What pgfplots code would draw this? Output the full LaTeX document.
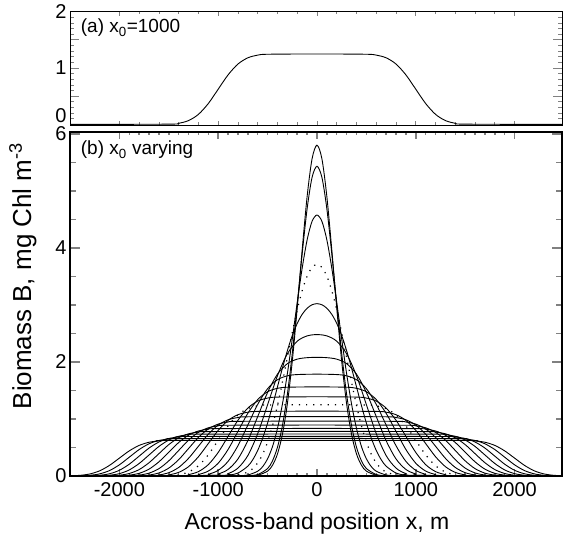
\documentclass[border=0pt]{standalone}
\usepackage{fontspec}
\setmainfont{Liberation Sans}
\usepackage{pgfplots}
\pgfplotsset{compat=1.18}

\pgfplotsset{
  cv/.style={black, line width=0.9pt, smooth, mark=none},
  cvd/.style={black, line width=1.2pt, smooth, mark=none, dash pattern=on 1.2pt off 6pt},
  panel/.style={
    scale only axis, width=492pt,
    xmin=-2500, xmax=2480,
    xtick={-2000,-1000,0,1000,2000},
    tick align=inside,
    tick label style={font=\fontsize{20}{22}\selectfont},
    yticklabel style={inner ysep=0pt},
  },
}

\begin{document}
\begin{tikzpicture}
\path[use as bounding box] (0pt,0pt) rectangle (563pt,538pt);

% panel (a): x0 = 1000
\begin{axis}[panel, at={(70pt,413pt)}, anchor=south west, height=113.3pt,
  ymin=-0.01, ymax=2,
  ytick={0,0.5,1,1.5,2}, yticklabels={\raisebox{18pt}{0},,1,,2},
  minor x tick num=4, minor y tick num=4,
  xticklabels={},
  axis line style={line width=0.8pt},
  xtick style={line width=0.8pt, /pgfplots/major tick length=4pt, /pgfplots/minor tick length=2.5pt},
  ytick style={line width=0.8pt, /pgfplots/major tick length=9pt, /pgfplots/minor tick length=4.5pt},
]
\addplot[cv] coordinates {(-2500,0) (-1500,0.0050) (-1400,0.0205) (-1300,0.0684) (-1200,0.1786) (-1100,0.3709) (-1000,0.625) (-900,0.8791) (-800,1.0714) (-700,1.1818) (-600,1.2295) (-500,1.2450) (0,1.25) (500,1.2450) (600,1.2295) (700,1.1818) (800,1.0714) (900,0.8791) (1000,0.625) (1100,0.3709) (1200,0.1786) (1300,0.0684) (1400,0.0205) (1500,0.0050) (2500,0)};
\end{axis}

% panel (b): x0 varying
\begin{axis}[panel, at={(70pt,61.5pt)}, anchor=south west, height=344.8pt,
  ymin=-0.01, ymax=6.04,
  ytick={0,2,4,6}, yticklabels={0,2,4,6},
  xticklabels={-2000,-1000,0,1000,2000},
  minor x tick num=9, minor y tick num=3,
  axis line style={line width=2pt},
  xtick style={line width=1.5pt, /pgfplots/major tick length=7pt, /pgfplots/minor tick length=3.5pt},
  ytick style={line width=1.5pt, /pgfplots/major tick length=10pt, /pgfplots/minor tick length=6pt},
  xticklabel style={yshift=-3pt},
]
% x0 = 0
\addplot[cv] coordinates {(-2500,0) (-800,0) (-700,0.0014) (-600,0.013) (-500,0.084) (-450,0.188) (-400,0.386) (-350,0.729) (-300,1.264) (-250,2.014) (-200,2.948) (-150,3.965) (-100,4.900) (-50,5.563) (0,5.804) (50,5.563) (100,4.900) (150,3.965) (200,2.948) (250,2.014) (300,1.264) (350,0.729) (400,0.386) (450,0.188) (500,0.084) (600,0.013) (700,0.0014) (800,0) (2500,0)};
% x0 = 100
\addplot[cv] coordinates {(-2500,0) (-800,0) (-700,0.0034) (-600,0.025) (-500,0.130) (-450,0.266) (-400,0.503) (-350,0.881) (-300,1.430) (-250,2.152) (-200,3.006) (-150,3.895) (-100,4.686) (-50,5.237) (0,5.433) (50,5.237) (100,4.686) (150,3.895) (200,3.006) (250,2.152) (300,1.430) (350,0.881) (400,0.503) (450,0.266) (500,0.130) (600,0.025) (700,0.0034) (800,0) (2500,0)};
% x0 = 200
\addplot[cv] coordinates {(-2500,0) (-900,0) (-800,0.0024) (-700,0.0172) (-600,0.0825) (-550,0.163) (-500,0.300) (-450,0.516) (-400,0.833) (-350,1.260) (-300,1.793) (-250,2.403) (-200,3.043) (-150,3.645) (-100,4.140) (-50,4.466) (0,4.578) (50,4.466) (100,4.140) (150,3.645) (200,3.043) (250,2.403) (300,1.793) (350,1.260) (400,0.833) (450,0.516) (500,0.300) (550,0.163) (600,0.0825) (700,0.0172) (800,0.0024) (900,0) (2500,0)};
% x0 = 300 (dotted)
\addplot[cvd] coordinates {(-2500,0) (-1000,0) (-900,0.0029) (-800,0.0167) (-700,0.068) (-650,0.129) (-600,0.228) (-550,0.379) (-500,0.595) (-450,0.882) (-400,1.236) (-350,1.644) (-300,2.080) (-250,2.515) (-200,2.913) (-150,3.250) (-100,3.503) (-50,3.659) (0,3.711) (50,3.659) (100,3.503) (150,3.250) (200,2.913) (250,2.515) (300,2.080) (350,1.644) (400,1.236) (450,0.882) (500,0.595) (550,0.379) (600,0.228) (650,0.129) (700,0.068) (800,0.0167) (900,0.0029) (1000,0) (2500,0)};
% x0 = 400
\addplot[cv] coordinates {(-2500,0) (-1000,0.0022) (-900,0.0125) (-800,0.051) (-700,0.171) (-650,0.285) (-600,0.447) (-550,0.662) (-500,0.927) (-450,1.234) (-400,1.5625) (-350,1.891) (-300,2.197) (-250,2.463) (-200,2.676) (-150,2.835) (-100,2.942) (-50,3.003) (0,3.0225) (50,3.003) (100,2.942) (150,2.835) (200,2.676) (250,2.463) (300,2.197) (350,1.891) (400,1.5625) (450,1.234) (500,0.927) (550,0.662) (600,0.447) (650,0.285) (700,0.171) (800,0.051) (900,0.0125) (1000,0.0022) (2500,0)};
% x0 = 500
\addplot[cv] coordinates {(-2500,0) (-1000,0.010) (-900,0.041) (-800,0.137) (-700,0.357) (-600,0.742) (-500,1.25) (-400,1.758) (-300,2.143) (-200,2.364) (-100,2.457) (0,2.480) (100,2.457) (200,2.364) (300,2.143) (400,1.758) (500,1.25) (600,0.742) (700,0.357) (800,0.137) (900,0.041) (1000,0.010) (2500,0)};
% x0 = 600
\addplot[cv] coordinates {(-2500,0) (-1100,0.0083) (-1000,0.0342) (-900,0.1140) (-800,0.2977) (-700,0.6181) (-600,1.0417) (-500,1.4652) (-400,1.7856) (-300,1.9696) (-200,2.0491) (-100,2.0750) (0,2.0804) (100,2.0750) (200,2.0491) (300,1.9696) (400,1.7856) (500,1.4652) (600,1.0417) (700,0.6181) (800,0.2977) (900,0.1140) (1000,0.0342) (1100,0.0083) (2500,0)};
% x0 = 700
\addplot[cv] coordinates {(-2500,0) (-1200,0.0071) (-1100,0.0293) (-1000,0.0977) (-900,0.2552) (-800,0.5298) (-700,0.8929) (-600,1.2559) (-500,1.5305) (-400,1.6882) (-300,1.7564) (-200,1.7786) (0,1.7854) (200,1.7786) (300,1.7564) (400,1.6882) (500,1.5305) (600,1.2559) (700,0.8929) (800,0.5298) (900,0.2552) (1000,0.0977) (1100,0.0293) (1200,0.0071) (2500,0)};
% x0 = 800
\addplot[cv] coordinates {(-2500,0) (-1300,0.0063) (-1200,0.0256) (-1100,0.0855) (-1000,0.2233) (-900,0.4636) (-800,0.7813) (-700,1.0989) (-600,1.3392) (-500,1.4772) (-400,1.5369) (-300,1.5563) (0,1.5624) (300,1.5563) (400,1.5369) (500,1.4772) (600,1.3392) (700,1.0989) (800,0.7813) (900,0.4636) (1000,0.2233) (1100,0.0855) (1200,0.0256) (1300,0.0063) (2500,0)};
% x0 = 900
\addplot[cv] coordinates {(-2500,0) (-1400,0.0056) (-1300,0.0228) (-1200,0.0760) (-1100,0.1985) (-1000,0.4121) (-900,0.6944) (-800,0.9768) (-700,1.1904) (-600,1.3131) (-500,1.3661) (-400,1.3833) (0,1.3889) (400,1.3833) (500,1.3661) (600,1.3131) (700,1.1904) (800,0.9768) (900,0.6944) (1000,0.4121) (1100,0.1985) (1200,0.0760) (1300,0.0228) (1400,0.0056) (2500,0)};
% x0 = 1000 (dotted)
\addplot[cvd] coordinates {(-2500,0) (-1500,0.0050) (-1400,0.0205) (-1300,0.0684) (-1200,0.1786) (-1100,0.3709) (-1000,0.625) (-900,0.8791) (-800,1.0714) (-700,1.1818) (-600,1.2295) (-500,1.2450) (0,1.25) (500,1.2450) (600,1.2295) (700,1.1818) (800,1.0714) (900,0.8791) (1000,0.625) (1100,0.3709) (1200,0.1786) (1300,0.0684) (1400,0.0205) (1500,0.0050) (2500,0)};
% x0 = 1100
\addplot[cv] coordinates {(-2500,0) (-1600,0.0045) (-1500,0.0186) (-1400,0.0622) (-1300,0.1624) (-1200,0.3372) (-1100,0.5682) (-1000,0.7992) (-900,0.9740) (-800,1.0743) (-700,1.1177) (-600,1.1318) (0,1.1364) (600,1.1318) (700,1.1177) (800,1.0743) (900,0.9740) (1000,0.7992) (1100,0.5682) (1200,0.3372) (1300,0.1624) (1400,0.0622) (1500,0.0186) (1600,0.0045) (2500,0)};
% x0 = 1200
\addplot[cv] coordinates {(-2500,0) (-1700,0.0042) (-1600,0.0171) (-1500,0.0570) (-1400,0.1489) (-1300,0.3091) (-1200,0.5208) (-1100,0.7326) (-1000,0.8928) (-900,0.9848) (-800,1.0246) (-700,1.0375) (0,1.0417) (700,1.0375) (800,1.0246) (900,0.9848) (1000,0.8928) (1100,0.7326) (1200,0.5208) (1300,0.3091) (1400,0.1489) (1500,0.0570) (1600,0.0171) (1700,0.0042) (2500,0)};
% x0 = 1300
\addplot[cv] coordinates {(-2500,0) (-1800,0.0038) (-1700,0.0158) (-1600,0.0526) (-1500,0.1374) (-1400,0.2853) (-1300,0.4808) (-1200,0.6763) (-1100,0.8241) (-1000,0.9090) (-900,0.9458) (-800,0.9577) (0,0.9615) (800,0.9577) (900,0.9458) (1000,0.9090) (1100,0.8241) (1200,0.6763) (1300,0.4808) (1400,0.2853) (1500,0.1374) (1600,0.0526) (1700,0.0158) (1800,0.0038) (2500,0)};
% x0 = 1400
\addplot[cv] coordinates {(-2500,0) (-1900,0.0036) (-1800,0.0146) (-1700,0.0488) (-1600,0.1276) (-1500,0.2649) (-1400,0.4464) (-1300,0.6279) (-1200,0.7653) (-1100,0.8441) (-1000,0.8782) (-900,0.8893) (0,0.8929) (900,0.8893) (1000,0.8782) (1100,0.8441) (1200,0.7653) (1300,0.6279) (1400,0.4464) (1500,0.2649) (1600,0.1276) (1700,0.0488) (1800,0.0146) (1900,0.0036) (2500,0)};
% x0 = 1500
\addplot[cv] coordinates {(-2500,0) (-2000,0.0033) (-1900,0.0137) (-1800,0.0456) (-1700,0.1191) (-1600,0.2473) (-1500,0.4167) (-1400,0.5861) (-1300,0.7143) (-1200,0.7878) (-1100,0.8197) (-1000,0.8300) (0,0.8333) (1000,0.8300) (1100,0.8197) (1200,0.7878) (1300,0.7143) (1400,0.5861) (1500,0.4167) (1600,0.2473) (1700,0.1191) (1800,0.0456) (1900,0.0137) (2000,0.0033) (2500,0)};
% x0 = 1600
\addplot[cv] coordinates {(-2500,0) (-2100,0.0031) (-2000,0.0128) (-1900,0.0427) (-1800,0.1116) (-1700,0.2318) (-1600,0.3906) (-1500,0.5495) (-1400,0.6696) (-1300,0.7386) (-1200,0.7684) (-1100,0.7781) (0,0.7813) (1100,0.7781) (1200,0.7684) (1300,0.7386) (1400,0.6696) (1500,0.5495) (1600,0.3906) (1700,0.2318) (1800,0.1116) (1900,0.0427) (2000,0.0128) (2100,0.0031) (2500,0)};
% x0 = 1700
\addplot[cv] coordinates {(-2500,0) (-2200,0.0029) (-2100,0.0121) (-2000,0.0402) (-1900,0.1051) (-1800,0.2182) (-1700,0.3676) (-1600,0.5171) (-1500,0.6302) (-1400,0.6951) (-1300,0.7232) (-1200,0.7324) (0,0.7353) (1200,0.7324) (1300,0.7232) (1400,0.6951) (1500,0.6302) (1600,0.5171) (1700,0.3676) (1800,0.2182) (1900,0.1051) (2000,0.0402) (2100,0.0121) (2200,0.0029) (2500,0)};
% x0 = 1800
\addplot[cv] coordinates {(-2500,0) (-2300,0.0028) (-2200,0.0114) (-2100,0.0380) (-2000,0.0992) (-1900,0.2060) (-1800,0.3472) (-1700,0.4884) (-1600,0.5952) (-1500,0.6565) (-1400,0.6831) (-1300,0.6917) (0,0.6944) (1300,0.6917) (1400,0.6831) (1500,0.6565) (1600,0.5952) (1700,0.4884) (1800,0.3472) (1900,0.2060) (2000,0.0992) (2100,0.0380) (2200,0.0114) (2300,0.0028) (2500,0)};
% x0 = 1900
\addplot[cv] coordinates {(-2500,0) (-2400,0.0026) (-2300,0.0108) (-2200,0.0360) (-2100,0.0940) (-2000,0.1952) (-1900,0.3289) (-1800,0.4627) (-1700,0.5639) (-1600,0.6220) (-1500,0.6471) (-1400,0.6553) (0,0.6579) (1400,0.6553) (1500,0.6471) (1600,0.6220) (1700,0.5639) (1800,0.4627) (1900,0.3289) (2000,0.1952) (2100,0.0940) (2200,0.0360) (2300,0.0108) (2400,0.0026) (2500,0)};
% x0 = 2000
\addplot[cv] coordinates {(-2500,0.0025) (-2400,0.0103) (-2300,0.0342) (-2200,0.0893) (-2100,0.1854) (-2000,0.3125) (-1900,0.4396) (-1800,0.5357) (-1700,0.5909) (-1600,0.6148) (-1500,0.6225) (0,0.625) (1500,0.6225) (1600,0.6148) (1700,0.5909) (1800,0.5357) (1900,0.4396) (2000,0.3125) (2100,0.1854) (2200,0.0893) (2300,0.0342) (2400,0.0103) (2500,0.0025)};
\end{axis}

\node[anchor=base west, inner sep=0pt, font=\fontsize{19}{21}\selectfont] at (80.7pt,505pt) {(a) x\textsubscript{0}=1000};
\node[anchor=base west, inner sep=0pt, font=\fontsize{19}{21}\selectfont] at (80.7pt,383pt) {(b) x\textsubscript{0} varying};
\node[anchor=base, inner sep=0pt, font=\fontsize{23}{26}\selectfont] at (317pt,8pt) {Across-band position x, m};
\node[anchor=base, rotate=90, inner sep=0pt, font=\fontsize{26}{29}\selectfont] at (31pt,262pt) {Biomass B, mg Chl m\textsuperscript{-3}};
\end{tikzpicture}
\end{document}
